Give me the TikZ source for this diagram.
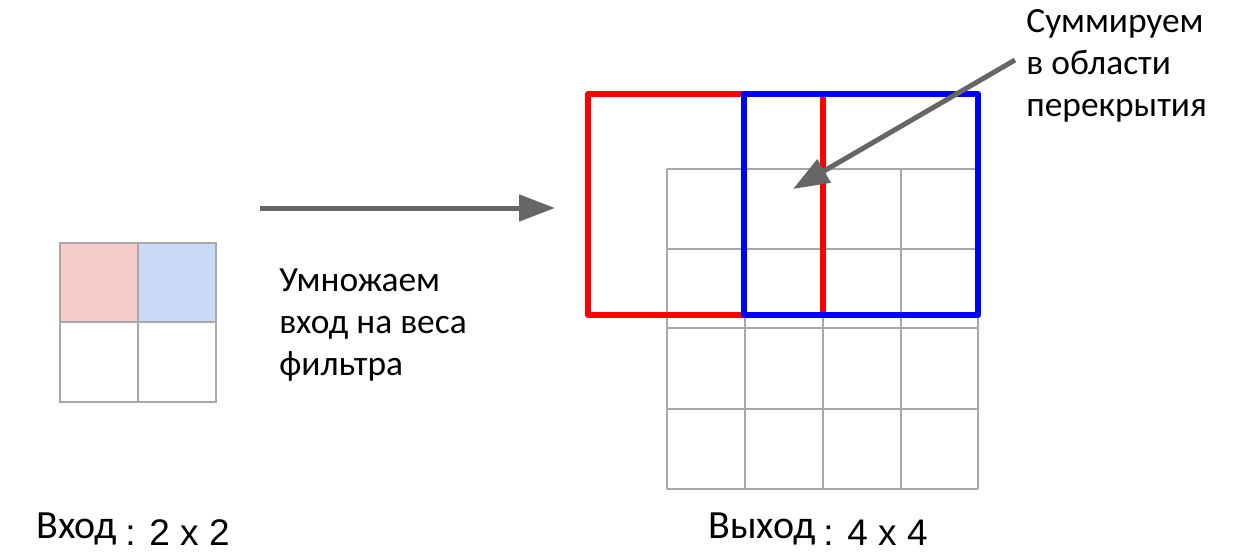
\documentclass[tikz,border=0pt]{standalone}
\usepackage{fontspec}
\setmainfont{Carlito}
\newfontfamily\arialfont{Liberation Sans}
\usetikzlibrary{arrows.meta}
\usetikzlibrary{positioning}
\definecolor{pinkcell}{HTML}{F4CCCC}
\definecolor{bluecell}{HTML}{C9DAF8}
\definecolor{gridgray}{HTML}{A8A8A8}
\definecolor{arrowgray}{HTML}{666666}

\begin{document}
\begin{tikzpicture}[x=0.5pt,y=-0.5pt,
  gridline/.style={gridgray,line width=1.1pt},
  arrowline/.style={arrowgray,line width=2.5pt,-{Triangle[length=18pt,width=13pt]}},
  frame/.style={line width=3pt,line join=round},
  lbl/.style={inner sep=0pt,align=left,font=\fontsize{17.7}{21}\selectfont},
  biglbl/.style={inner sep=0pt,anchor=base west,font=\fontsize{20}{23}\selectfont},
  sizelbl/.style={inner sep=0pt,anchor=base west,font=\arialfont\fontsize{18.5}{22}\selectfont}]
\useasboundingbox (0,0) rectangle (1244,558);

% input 2 x 2
\fill [pinkcell] (60,243) rectangle (138,322);
\fill [bluecell] (138,243) rectangle (216,322);
\draw [gridline] (60,243) rectangle (216,402);
\draw [gridline] (138,243) -- (138,402);
\draw [gridline] (60,322) -- (216,322);

% output 4 x 4
\draw [gridline] (667,169) -- (978,169);
\draw [gridline] (667,249) -- (978,249);
\draw [gridline] (667,328) -- (978,328);
\draw [gridline] (667,409) -- (978,409);
\draw [gridline] (667,489) -- (978,489);
\draw [gridline] (667,169) -- (667,489);
\draw [gridline] (745,169) -- (745,489);
\draw [gridline] (823,169) -- (823,489);
\draw [gridline] (901,169) -- (901,489);
\draw [gridline] (978,169) -- (978,489);

% filter frames
\draw [frame,red] (588,94) rectangle (823,315);
\draw [frame,blue] (744,94) rectangle (978,315);

% labels
\node [lbl,anchor=north west] (multxt) at (279,268) {Умножаем\\вход на веса\\фильтра};
\node [lbl,anchor=north west] (sumtxt) at (1026,9) {Суммируем\\в области\\перекрытия};

\node [biglbl] (inlbl) at (36,538) {Вход};
\node [sizelbl] (insize) at (125,545) {: 2 x 2};
\node [biglbl] (outlbl) at (708,538) {Выход};
\node [sizelbl] (outsize) at (823,545) {: 4 x 4};

% arrows
\coordinate (mulstart) at (260,208);
\coordinate (mulend) at (555,208);
\coordinate (sumstart) at (1015,60);
\coordinate (sumtip) at (793,189);
\draw [arrowline] (mulstart) -- (mulend);
\draw [arrowline] (sumstart) -- (sumtip);
\end{tikzpicture}
\end{document}
